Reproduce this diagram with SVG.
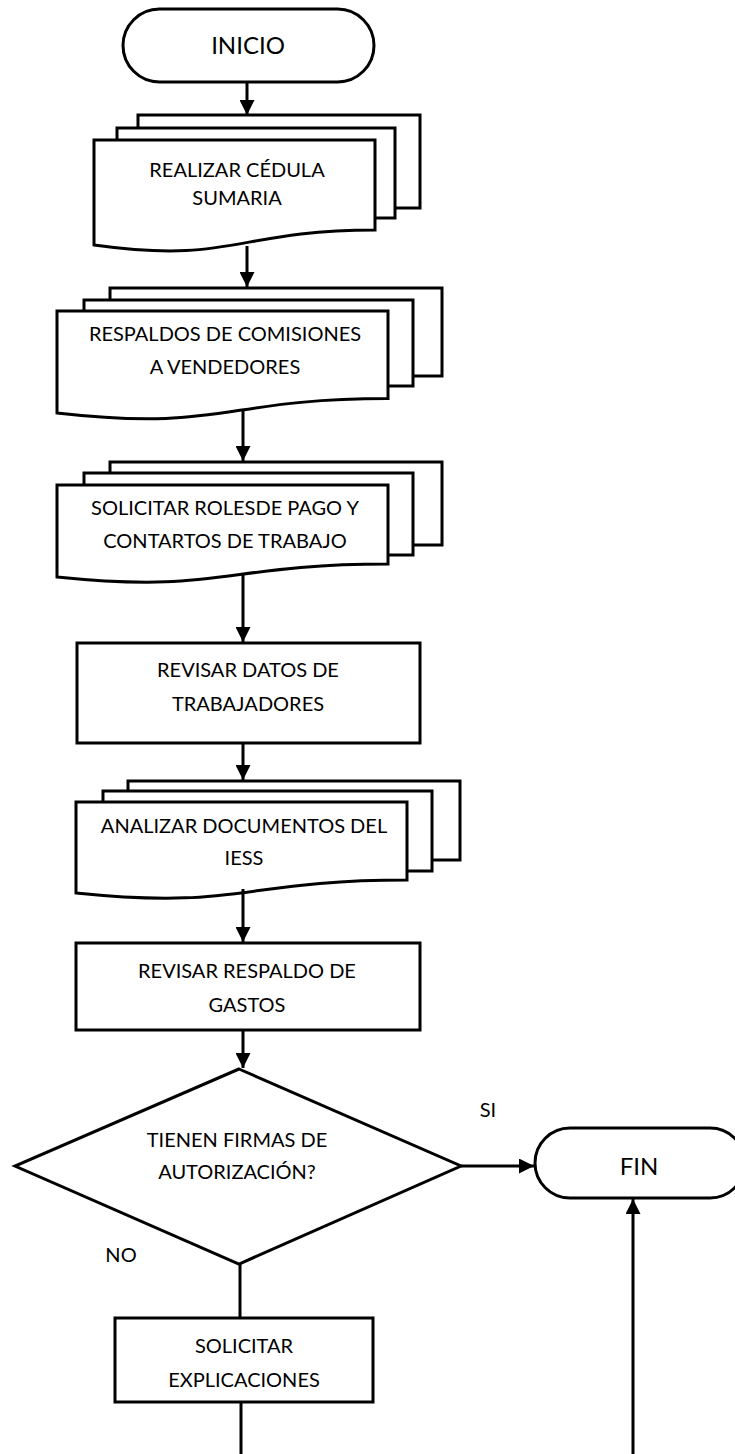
<svg xmlns="http://www.w3.org/2000/svg" width="735" height="1454" viewBox="0 0 735 1454">
  <defs>
    <style>
      .shape { fill: #ffffff; stroke: #000000; stroke-width: 3; stroke-linejoin: miter; }
      .line { fill: none; stroke: #000000; stroke-width: 3; }
      .lbl { font-family: Lato, "Open Sans", "Liberation Sans", sans-serif; font-size: 20px; fill: #000000; text-anchor: middle; }
      .big { font-size: 24px; }
    </style>
    <marker id="arrow" viewBox="0 0 10 10" refX="10" refY="5" markerWidth="5" markerHeight="5" markerUnits="strokeWidth" orient="auto">
      <path d="M0,0 L10,5 L0,10 Z" fill="#000000"/>
    </marker>
  </defs>
  <rect width="735" height="1454" fill="#ffffff"/>

  <!-- start terminal -->
  <g id="inicio">
    <rect class="shape" x="123" y="9" width="251" height="73" rx="36.5" ry="36.5"/>
    <text class="lbl big" x="248" y="54">INICIO</text>
  </g>

  <!-- document stack: cédula sumaria -->
  <g id="cedula">
    <rect class="shape" x="138" y="115" width="282" height="93"/>
    <rect class="shape" x="117" y="128" width="278" height="90"/>
    <path class="shape" d="M94,140 H375 V230 C234.5,230 234.5,264.5 94,245 Z"/>
    <text class="lbl" x="237" y="177">REALIZAR CÉDULA</text>
    <text class="lbl" x="237" y="205">SUMARIA</text>
  </g>

  <!-- document stack: respaldos de comisiones -->
  <g id="comisiones">
    <rect class="shape" x="110" y="288" width="332" height="88"/>
    <rect class="shape" x="84" y="300" width="329" height="86"/>
    <path class="shape" d="M57,311 H388 V398.6 C222.5,398.6 222.5,431.9 57,413 Z"/>
    <text class="lbl" x="225" y="341">RESPALDOS DE COMISIONES</text>
    <text class="lbl" x="225" y="374">A VENDEDORES</text>
  </g>

  <!-- document stack: roles de pago -->
  <g id="roles">
    <rect class="shape" x="110" y="462" width="332" height="83"/>
    <rect class="shape" x="84" y="473" width="329" height="82"/>
    <path class="shape" d="M57,485 H388 V564 C222.5,564 222.5,594 57,577 Z"/>
    <text class="lbl" x="225" y="515">SOLICITAR ROLESDE PAGO Y</text>
    <text class="lbl" x="225" y="548">CONTARTOS DE TRABAJO</text>
  </g>

  <!-- process: revisar datos -->
  <g id="datos">
    <rect class="shape" x="77" y="643" width="343" height="100"/>
    <text class="lbl" x="248" y="677">REVISAR DATOS DE</text>
    <text class="lbl" x="248" y="711">TRABAJADORES</text>
  </g>

  <!-- document stack: documentos del IESS -->
  <g id="iess">
    <rect class="shape" x="128" y="781" width="332" height="79"/>
    <rect class="shape" x="103" y="791" width="329" height="80"/>
    <path class="shape" d="M76,802 H407 V880 C241.5,880 241.5,910 76,893 Z"/>
    <text class="lbl" x="244" y="833">ANALIZAR DOCUMENTOS DEL</text>
    <text class="lbl" x="244" y="865">IESS</text>
  </g>

  <!-- process: revisar gastos -->
  <g id="gastos">
    <rect class="shape" x="76" y="943" width="344" height="87"/>
    <text class="lbl" x="247" y="978">REVISAR RESPALDO DE</text>
    <text class="lbl" x="247" y="1012">GASTOS</text>
  </g>

  <!-- decision -->
  <g id="firmas">
    <path class="shape" d="M239,1069 L461,1166 L239,1264 L15,1166 Z"/>
    <text class="lbl" x="237" y="1147">TIENEN FIRMAS DE</text>
    <text class="lbl" x="237" y="1179">AUTORIZACIÓN?</text>
  </g>

  <!-- end terminal -->
  <g id="fin">
    <rect class="shape" x="535" y="1128" width="210" height="70" rx="35" ry="35"/>
    <text class="lbl big" x="639" y="1175">FIN</text>
  </g>

  <!-- process: solicitar explicaciones -->
  <g id="explicaciones">
    <rect class="shape" x="115" y="1318" width="258" height="84"/>
    <text class="lbl" x="244" y="1353">SOLICITAR</text>
    <text class="lbl" x="244" y="1387">EXPLICACIONES</text>
  </g>

  <!-- branch labels -->
  <g id="labels">
    <text class="lbl" x="488" y="1117">SI</text>
    <text class="lbl" x="121" y="1262">NO</text>
  </g>

  <!-- connectors -->
  <g id="connectors">
    <line class="line" x1="247" y1="82" x2="247" y2="115" marker-end="url(#arrow)"/>
    <line class="line" x1="247" y1="246" x2="247" y2="287" marker-end="url(#arrow)"/>
    <line class="line" x1="243" y1="410" x2="243" y2="461" marker-end="url(#arrow)"/>
    <line class="line" x1="243" y1="573" x2="243" y2="642" marker-end="url(#arrow)"/>
    <line class="line" x1="243" y1="743" x2="243" y2="780" marker-end="url(#arrow)"/>
    <line class="line" x1="243" y1="889" x2="243" y2="942" marker-end="url(#arrow)"/>
    <line class="line" x1="243" y1="1030" x2="243" y2="1068" marker-end="url(#arrow)"/>
    <line class="line" x1="461" y1="1166" x2="534" y2="1166" marker-end="url(#arrow)"/>
    <line class="line" x1="240" y1="1264" x2="240" y2="1318"/>
    <line class="line" x1="241" y1="1402" x2="241" y2="1454"/>
    <line class="line" x1="633" y1="1454" x2="633" y2="1199" marker-end="url(#arrow)"/>
  </g>
</svg>
